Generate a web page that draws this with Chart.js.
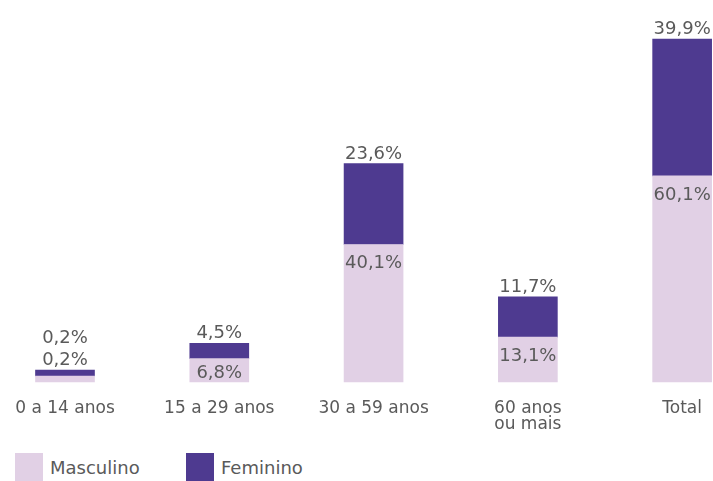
<!DOCTYPE html>
<html lang="pt">
<head>
<meta charset="utf-8">
<script src="https://cdn.jsdelivr.net/npm/chart.js@4/dist/chart.umd.min.js"></script>
<style>
  html, body { margin: 0; padding: 0; background: #fff; }
  body { width: 713px; height: 481px; position: relative; overflow: hidden; font-family: "DejaVu Sans", sans-serif; }
  #wrap { position: absolute; left: 0; top: 0; width: 713px; height: 444px; }
  .leg { position: absolute; top: 453px; height: 28px; display: flex; align-items: center; font-size: 18px; color: #5a5a5a; }
  .leg i { display: inline-block; width: 28px; height: 28px; margin-right: 7px; }
</style>
</head>
<body>
<div id="wrap"><canvas id="chart" width="713" height="444"></canvas></div>
<div class="leg" style="left:15px"><i style="background:#e1d0e5"></i>Masculino</div>
<div class="leg" style="left:186px"><i style="background:#4e3a90"></i>Feminino</div>
<script>
// dados (% por faixa etária)
const faixas    = ["0 a 14 anos", "15 a 29 anos", "30 a 59 anos", ["60 anos", "ou mais"], "Total"];
const masculino = [0.2, 6.8, 40.1, 13.1, 60.1];
const feminino  = [0.2, 4.5, 23.6, 11.7, 39.9];

const C = {
  masc: "#e1d0e5",
  fem:  "#4e3a90",
  text: "#5a5a5a",
};

const fmt = (v) => v.toFixed(1).replace(".", ",") + "%";

// rótulos de valor: feminino acima da barra, masculino dentro do topo da parte clara
const valueLabels = {
  id: "valueLabels",
  afterDatasetsDraw(chart) {
    const ctx = chart.ctx;
    const m = chart.getDatasetMeta(0).data;
    const f = chart.getDatasetMeta(1).data;
    ctx.save();
    ctx.font = '18px "DejaVu Sans"';
    ctx.fillStyle = C.text;
    ctx.textAlign = "center";
    ctx.textBaseline = "alphabetic";
    m.forEach((bm, i) => {
      const bf = f[i];
      const top = Math.min(bf.y, bf.base);
      const segH = bm.base - bm.y;
      if (segH < 18) {
        ctx.fillText(fmt(feminino[i]), bf.x, top - 27);
        ctx.fillText(fmt(masculino[i]), bm.x, top - 5);
      } else {
        ctx.fillText(fmt(feminino[i]), bf.x, top - 5);
        ctx.fillText(fmt(masculino[i]), bm.x, Math.min(bm.y + 24, bm.base - 4));
      }
    });
    ctx.restore();
  },
};

Chart.defaults.animation = false;
Chart.defaults.font.family = '"DejaVu Sans", sans-serif';

new Chart(document.getElementById("chart"), {
  type: "bar",
  data: {
    labels: faixas,
    datasets: [
      { label: "Masculino", data: masculino, backgroundColor: C.masc, barThickness: 59, minBarLength: 6, clip: false },
      { label: "Feminino",  data: feminino,  backgroundColor: C.fem,  barThickness: 59, minBarLength: 6, clip: false },
    ],
  },
  options: {
    responsive: false,
    maintainAspectRatio: false,
    layout: { padding: { left: 65, right: 23, top: 39, bottom: 0 } },
    plugins: { legend: { display: false }, tooltip: { enabled: false } },
    scales: {
      x: {
        stacked: true,
        offset: false,
        grid: { display: false },
        border: { display: false },
        ticks: { color: C.text, padding: 11, font: { size: 17, lineHeight: "16px" }, maxRotation: 0, autoSkip: false },
      },
      y: { stacked: true, display: false, min: 0, max: 100 },
    },
  },
  plugins: [valueLabels],
});
</script>
</body>
</html>
